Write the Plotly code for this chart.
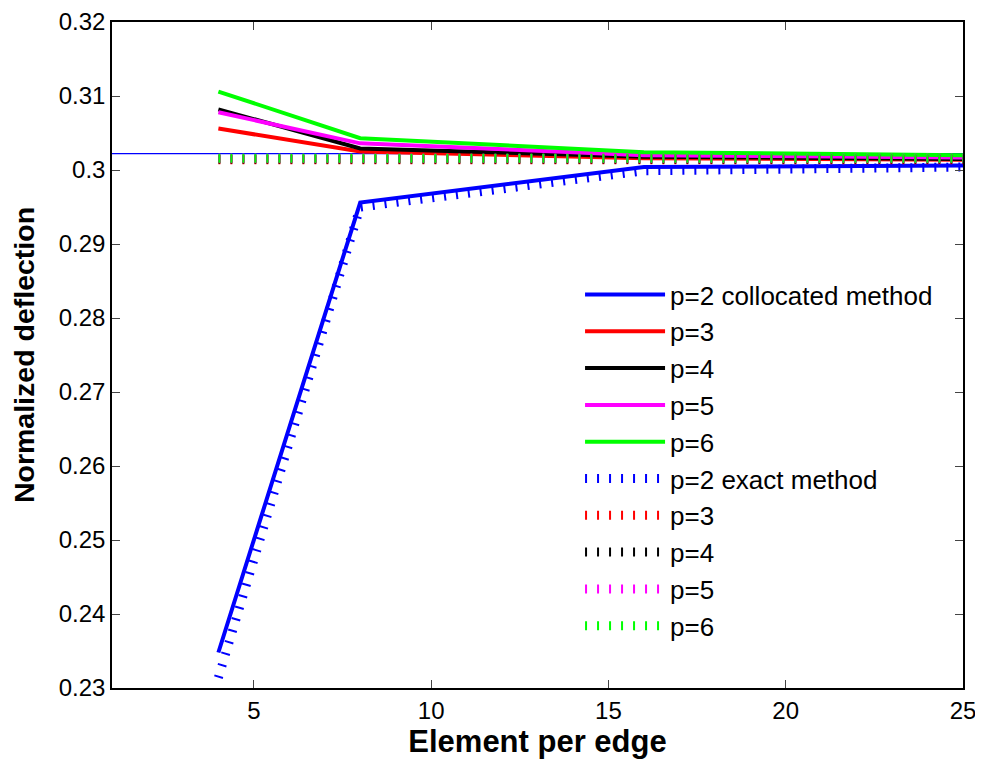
import plotly.graph_objects as go

# ---- data ----
elements = [4, 8, 16, 25]

colloc_p2 = [0.2348, 0.2956, 0.3004, 0.3006]
colloc_p3 = [0.3056, 0.3025, 0.3016, 0.3014]
colloc_p4 = [0.3082, 0.3029, 0.3018, 0.3015]
colloc_p5 = [0.3078, 0.3036, 0.3020, 0.3017]
colloc_p6 = [0.3106, 0.3043, 0.3024, 0.3020]

exact_p2 = [0.2314, 0.2950, 0.2999, 0.3004]
exact_p3 = [0.3014, 0.3014, 0.3014, 0.3014]
exact_p4 = [0.3015, 0.3015, 0.3015, 0.3015]
exact_p5 = [0.3016, 0.3016, 0.3016, 0.3016]
exact_p6 = [0.3016, 0.3016, 0.3016, 0.3016]

reference_value = 0.3022

colloc_names = ["p=2 collocated method", "p=3", "p=4", "p=5", "p=6"]
exact_names = ["p=2 exact method", "p=3", "p=4", "p=5", "p=6"]
colors = ["#0000ff", "#ff0000", "#000000", "#ff00ff", "#00ff00"]

y_ticks = [0.23, 0.24, 0.25, 0.26, 0.27, 0.28, 0.29, 0.30, 0.31, 0.32]
y_tick_labels = ["0.23", "0.24", "0.25", "0.26", "0.27", "0.28", "0.29", "0.3", "0.31", "0.32"]
x_ticks = [5, 10, 15, 20, 25]

FONT = "Arial, Liberation Sans, Helvetica, sans-serif"

fig = go.Figure()

fig.add_hline(y=reference_value, line=dict(color="#0000ff", width=1.3), layer="below")

for name, ys, c in zip(colloc_names, [colloc_p2, colloc_p3, colloc_p4, colloc_p5, colloc_p6], colors):
    fig.add_trace(go.Scatter(x=elements, y=ys, mode="lines", name=name,
                             line=dict(color=c, width=4)))

for name, ys, c in zip(exact_names, [exact_p2, exact_p3, exact_p4, exact_p5, exact_p6], colors):
    fig.add_trace(go.Scatter(x=elements, y=ys, mode="lines", name=name,
                             line=dict(color=c, width=9, dash="2px,10px")))

fig.update_layout(
    width=975, height=756,
    margin=dict(l=104, r=20, t=14, b=76),
    paper_bgcolor="white", plot_bgcolor="white",
    font=dict(family=FONT, color="black", size=24),
    showlegend=True,
    legend=dict(x=0.55, y=0.626, xanchor="left", yanchor="top",
                bgcolor="rgba(255,255,255,0)", borderwidth=0,
                font=dict(size=26, family=FONT, color="black"),
                itemwidth=80, tracegroupgap=0),
    xaxis=dict(range=[1, 25], tickvals=x_ticks, ticks="inside", ticklen=8,
               showline=True, linecolor="black", linewidth=1.5, mirror="ticks",
               showgrid=False, zeroline=False, tickfont=dict(size=24), automargin=False,
               ticklabeloverflow="allow",
               title=dict(text="<b>Element per edge</b>", font=dict(size=31), standoff=2)),
    yaxis=dict(range=[0.23, 0.32], tickvals=y_ticks, ticktext=y_tick_labels,
               ticks="inside", ticklen=8,
               showline=True, linecolor="black", linewidth=1.5, mirror="ticks",
               showgrid=False, zeroline=False, tickfont=dict(size=24), automargin=False,
               ticklabeloverflow="allow",
               title=dict(text="<b>Normalized deflection</b>", font=dict(size=28.5), standoff=17)),
)

fig.write_html("out.html")
